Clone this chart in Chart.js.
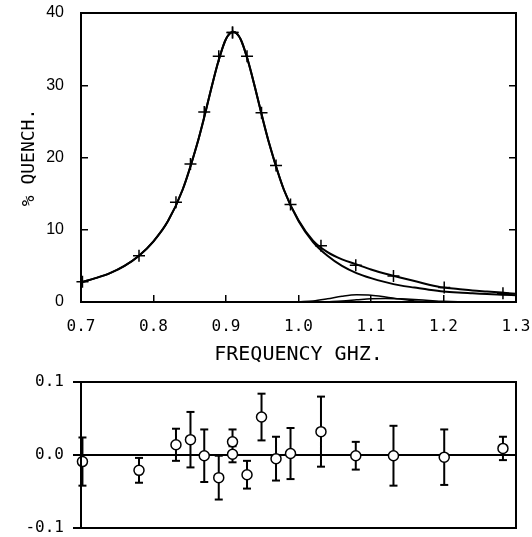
<!DOCTYPE html>
<html>
<head>
<meta charset="utf-8">
<script src="https://cdn.jsdelivr.net/npm/chart.js@4.4.1/dist/chart.umd.min.js"></script>
<style>
  body { margin: 0; background: #fff; }
  canvas { display: block; }
</style>
</head>
<body>
<canvas id="quench" width="532" height="370"></canvas>
<canvas id="resid" width="532" height="167"></canvas>
<script>
// measured points (GHz, % quench)
const freq = [0.702, 0.780, 0.831, 0.851, 0.870, 0.890, 0.909, 0.909, 0.929, 0.949, 0.969, 0.989, 1.031, 1.079, 1.131, 1.201, 1.282]
const quench = [2.8, 6.4, 13.8, 19.1, 26.3, 34.0, 37.3, 37.3, 34.0, 26.2, 18.9, 13.5, 7.8, 5.1, 3.6, 2.0, 1.2]

// fitted curves
const curveFreq = [0.70, 0.72, 0.74, 0.76, 0.78, 0.80, 0.82, 0.84, 0.86, 0.87, 0.88, 0.89, 0.90, 0.91, 0.92, 0.93, 0.94, 0.95, 0.96, 0.98, 1.00, 1.02, 1.04, 1.06, 1.08, 1.10, 1.12, 1.14, 1.16, 1.18, 1.20, 1.22, 1.24, 1.26, 1.28, 1.30]
const totalFit = [2.7, 3.3, 4.0, 5.0, 6.4, 8.4, 11.2, 15.5, 21.8, 25.6, 29.7, 33.5, 36.4, 37.4, 36.4, 33.5, 29.7, 25.6, 21.8, 15.5, 11.3, 8.5, 6.9, 5.9, 5.2, 4.5, 3.9, 3.4, 2.9, 2.4, 2.0, 1.8, 1.6, 1.45, 1.3, 1.15]
const mainPeak = [2.7, 3.3, 4.0, 5.0, 6.4, 8.4, 11.2, 15.5, 21.8, 25.6, 29.7, 33.5, 36.4, 37.4, 36.4, 33.5, 29.7, 25.6, 21.8, 15.5, 11.2, 8.3, 6.4, 5.0, 4.0, 3.3, 2.75, 2.3, 2.0, 1.7, 1.45, 1.3, 1.2, 1.1, 1.0, 0.95]

const bump1Freq = [1.00, 1.02, 1.04, 1.06, 1.08, 1.10, 1.12, 1.14, 1.16, 1.18]
const bump1 = [0.02, 0.15, 0.45, 0.8, 1.0, 0.95, 0.7, 0.4, 0.15, 0.03]
const bump2Freq = [1.04, 1.06, 1.08, 1.10, 1.12, 1.14, 1.16, 1.18, 1.20, 1.22, 1.24]
const bump2 = [0.05, 0.15, 0.3, 0.45, 0.5, 0.45, 0.35, 0.22, 0.1, 0.03, 0]

// residuals with error bars
const resVal = [-0.009, -0.021, 0.014, 0.021, -0.001, -0.031, 0.018, 0.001, -0.027, 0.052, -0.005, 0.002, 0.032, -0.001, -0.001, -0.003, 0.009]
const resErr = [0.033, 0.017, 0.022, 0.038, 0.036, 0.030, 0.017, 0.011, 0.019, 0.032, 0.030, 0.035, 0.048, 0.019, 0.041, 0.038, 0.016]

const MONO = "'DejaVu Sans Mono', monospace"
Chart.defaults.color = '#000'
Chart.defaults.animation = false

const frame = {
    id: 'frame',
    afterDraw(chart) {
        const { ctx, chartArea: a } = chart
        ctx.save()
        ctx.strokeStyle = '#000'
        ctx.lineWidth = 2
        ctx.strokeRect(a.left, a.top, a.right - a.left, a.bottom - a.top)
        ctx.restore()
    }
}

const xy = (xs, ys) => xs.map((x, i) => ({ x: x, y: ys[i] }))

const curve = (data, width) => ({
    data: data,
    showLine: true,
    borderColor: '#000',
    borderWidth: width,
    pointRadius: 0,
    tension: 0.4,
    cubicInterpolationMode: 'monotone',
    fill: false
})

// fixed y-axis width, no label overhang padding
const fixY = (w) => (s) => { s.width = w; s.paddingTop = 0; s.paddingBottom = 0 }

new Chart(document.getElementById('quench'), {
    type: 'scatter',
    data: {
        datasets: [
            {
                data: xy(freq, quench),
                pointStyle: 'cross',
                pointRadius: 6,
                borderColor: '#000',
                borderWidth: 1.5,
                clip: false
            },
            curve(xy(curveFreq, totalFit), 2),
            curve(xy(curveFreq, mainPeak), 2),
            curve(xy(bump1Freq, bump1), 1.5),
            curve(xy(bump2Freq, bump2), 1.5)
        ]
    },
    options: {
        responsive: false,
        devicePixelRatio: 1,
        layout: { padding: { left: 0, top: 13, right: 0, bottom: 0 } },
        plugins: { legend: { display: false }, tooltip: { enabled: false } },
        scales: {
            x: {
                type: 'linear',
                min: 0.7,
                max: 1.3,
                afterFit: (s) => { s.height = 68; s.paddingLeft = 0; s.paddingRight = 0 },
                grid: { drawOnChartArea: false, tickLength: -7, color: '#000', lineWidth: 1.5 },
                border: { color: '#000', width: 2 },
                ticks: {
                    stepSize: 0.1,
                    padding: 22,
                    font: { family: MONO, size: 16 },
                    callback: (v) => v.toFixed(1)
                },
                title: {
                    display: true,
                    text: 'FREQUENCY GHZ.',
                    font: { family: MONO, size: 20 },
                    padding: { bottom: 3 }
                }
            },
            y: {
                min: 0,
                max: 40,
                afterFit: fixY(81),
                grid: { drawOnChartArea: false, tickLength: -7, color: '#000', lineWidth: 1.5 },
                border: { color: '#000', width: 2 },
                ticks: {
                    stepSize: 10,
                    padding: 24,
                    font: { family: "'Liberation Sans', Arial, sans-serif", size: 16 }
                },
                title: {
                    display: true,
                    text: '% QUENCH.',
                    font: { family: MONO, size: 18 },
                    padding: { top: 19 }
                }
            },
            y2: {
                position: 'right',
                min: 0,
                max: 40,
                afterFit: fixY(16),
                grid: { drawOnChartArea: false, tickLength: -7, color: '#000', lineWidth: 1.5 },
                border: { color: '#000', width: 2 },
                ticks: { stepSize: 10, color: 'rgba(0,0,0,0)' }
            }
        }
    },
    plugins: [frame]
})

// error bars: low/high pairs split by gaps, caps drawn as point 'line' markers
const errBars = []
freq.forEach((f, i) => {
    errBars.push({ x: f, y: resVal[i] - resErr[i] })
    errBars.push({ x: f, y: resVal[i] + resErr[i] })
    errBars.push({ x: f, y: null })
})

new Chart(document.getElementById('resid'), {
    type: 'scatter',
    data: {
        datasets: [
            {
                data: xy(freq, resVal),
                pointStyle: 'circle',
                pointRadius: 5,
                backgroundColor: '#fff',
                borderColor: '#000',
                borderWidth: 1.5,
                clip: false
            },
            {
                data: errBars,
                showLine: true,
                spanGaps: false,
                borderColor: '#000',
                borderWidth: 2,
                pointStyle: 'line',
                pointRadius: 4,
                pointBorderWidth: 2,
                clip: false
            }
        ]
    },
    options: {
        responsive: false,
        devicePixelRatio: 1,
        layout: { padding: { left: 0, top: 12, right: 16, bottom: 9 } },
        plugins: { legend: { display: false }, tooltip: { enabled: false } },
        scales: {
            x: {
                type: 'linear',
                min: 0.7,
                max: 1.3,
                display: false
            },
            y: {
                min: -0.1,
                max: 0.1,
                afterFit: fixY(81),
                grid: {
                    color: (c) => Math.abs(c.tick.value) < 1e-9 ? '#000' : 'rgba(0,0,0,0)',
                    lineWidth: 2,
                    tickLength: 8,
                    tickColor: '#000',
                    tickWidth: 2
                },
                border: { color: '#000', width: 2 },
                ticks: {
                    stepSize: 0.1,
                    padding: 9,
                    font: { family: MONO, size: 16 },
                    callback: (v) => v.toFixed(1)
                }
            }
        }
    },
    plugins: [frame]
})
</script>
</body>
</html>
